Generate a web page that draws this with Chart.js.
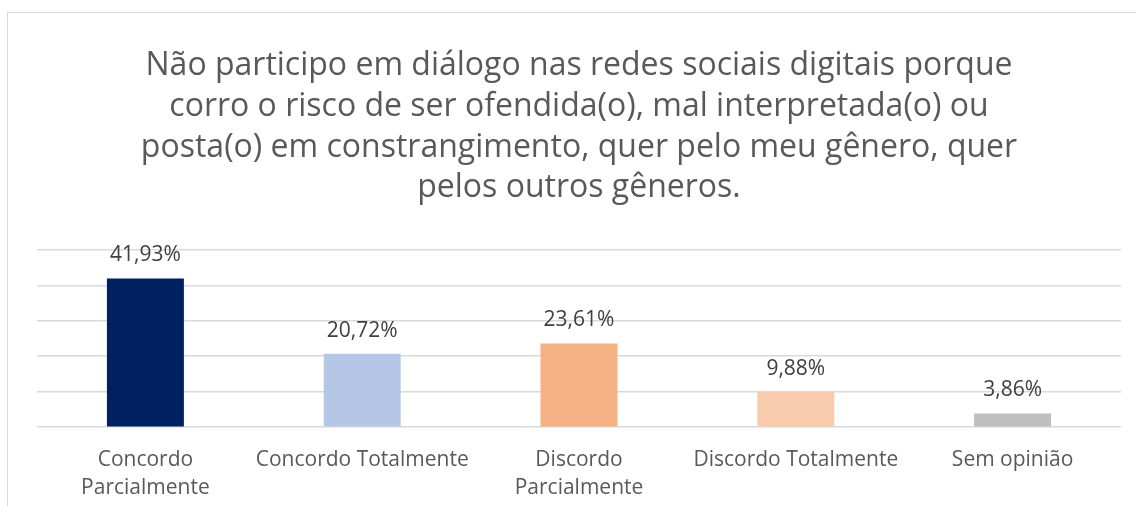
<!DOCTYPE html>
<html>
<head>
<meta charset="utf-8">
<script src="https://cdn.jsdelivr.net/npm/chart.js@4"></script>
<style>
  html, body { margin: 0; padding: 0; background: #fff; }
  #frame { position: absolute; left: 7px; top: 12px; width: 1140px; height: 510px; border: 1px solid #d9d9d9; }
  #wrap { position: absolute; left: 0; top: 0; width: 1136px; height: 506px; }
</style>
</head>
<body>
<div id="frame"></div>
<div id="wrap"><canvas id="chart"></canvas></div>
<script>
const categories = [
  ['Concordo', 'Parcialmente'],
  'Concordo Totalmente',
  ['Discordo', 'Parcialmente'],
  'Discordo Totalmente',
  'Sem opinião'
];
const percentages = [41.93, 20.72, 23.61, 9.88, 3.86];
const barColors = ['#002060', '#B4C7E7', '#F4B183', '#F8CBAD', '#BFBFBF'];
const titleLines = [
  'Não participo em diálogo nas redes sociais digitais porque',
  'corro o risco de ser ofendida(o), mal interpretada(o) ou',
  'posta(o) em constrangimento, quer pelo meu gênero, quer',
  'pelos outros gêneros.'
];

const FONT = '"Open Sans", "Noto Sans", sans-serif';

// draws the value above each bar, like Excel data labels
const valueLabels = {
  id: 'valueLabels',
  afterDatasetsDraw(chart) {
    const ctx = chart.ctx;
    const meta = chart.getDatasetMeta(0);
    ctx.save();
    ctx.font = '21px ' + FONT;
    ctx.fillStyle = '#404040';
    ctx.textAlign = 'center';
    ctx.textBaseline = 'middle';
    meta.data.forEach((bar, i) => {
      const txt = percentages[i].toFixed(2).replace('.', ',') + '%';
      ctx.fillText(txt, bar.x, bar.y - 23);
    });
    ctx.restore();
  }
};

new Chart(document.getElementById('chart'), {
  type: 'bar',
  data: {
    labels: categories,
    datasets: [{
      data: percentages,
      backgroundColor: barColors,
      barPercentage: 0.355,
      categoryPercentage: 1
    }]
  },
  options: {
    responsive: true,
    maintainAspectRatio: false,
    animation: false,
    layout: { padding: { left: 37, right: 15, top: 45, bottom: -7 } },
    plugins: {
      legend: { display: false },
      tooltip: { enabled: false },
      title: {
        display: true,
        text: titleLines,
        color: '#595959',
        font: { family: FONT, size: 32, weight: 'normal', lineHeight: 1.28 },
        padding: { top: 0, bottom: 41 }
      }
    },
    scales: {
      x: {
        grid: { display: false },
        border: { display: false },
        ticks: {
          color: '#595959',
          font: { family: FONT, size: 21, lineHeight: 1.33 },
          maxRotation: 0,
          autoSkip: false,
          padding: 11
        }
      },
      y: {
        min: 0,
        max: 50,
        ticks: { display: false, stepSize: 10 },
        grid: { color: '#d9d9d9', lineWidth: 1.5, drawTicks: false },
        border: { display: false }
      }
    }
  },
  plugins: [valueLabels]
});
</script>
</body>
</html>
